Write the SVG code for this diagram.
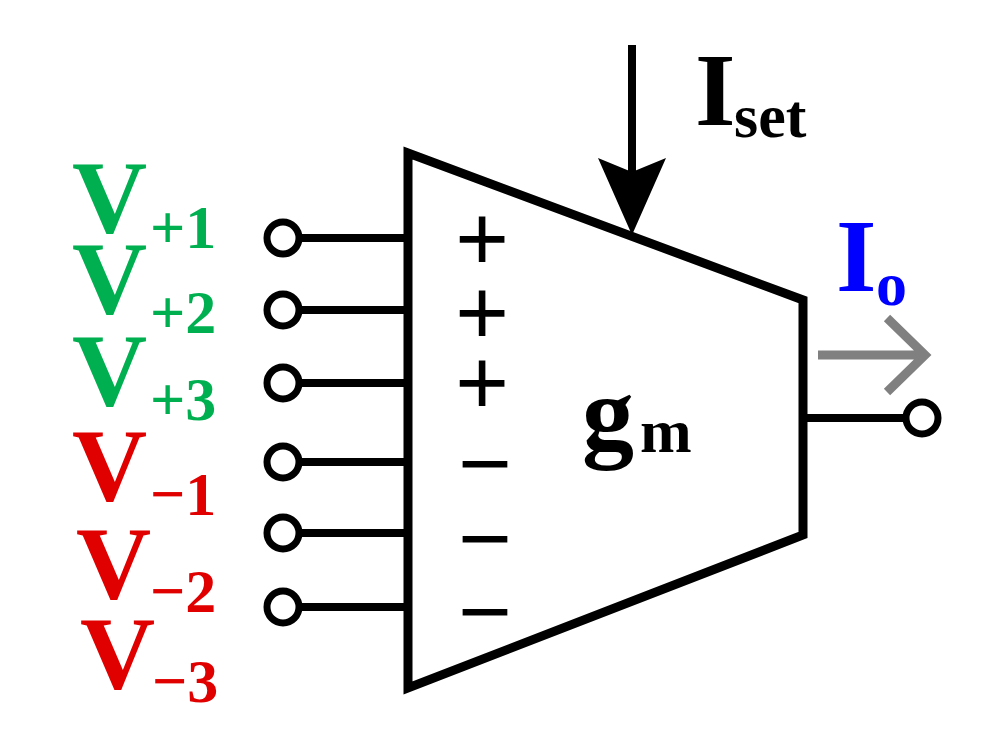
<svg xmlns="http://www.w3.org/2000/svg" width="997" height="742" viewBox="0 0 997 742">
<style>
.t{font-family:"Liberation Serif",serif;font-weight:bold}
.big{font-size:104px}.sub{font-size:62px}
.g{fill:#00b050}.r{fill:#e00000}
.pin{fill:#fff;stroke:#000;stroke-width:7}
.w{stroke:#000;stroke-width:8;fill:none}
.s{font-family:"Liberation Sans",sans-serif;font-size:92px}
</style>
<rect width="997" height="742" fill="#fff"/>
<g id="amp"><polygon points="408,153 803,300 803,535 408,688" fill="#fff" stroke="#000" stroke-width="9" stroke-linejoin="miter"/>
<g class="s" text-anchor="middle"><text x="482" y="270">+</text><text x="482" y="344">+</text><text x="482" y="414">+</text><text x="485" y="495">−</text><text x="485" y="570">−</text><text x="485" y="643">−</text></g>
<text class="t" font-size="104" x="582" y="448">g</text><text class="t" font-size="62" x="640" y="452">m</text></g>
<g id="connectors">
<path class="w" d="M300,238H408M300,310H408M300,383H408M300,462H408M300,533H408M300,607H408M803,418H905"/>
<line x1="632" y1="45" x2="632" y2="175" stroke="#000" stroke-width="8"/>
<polygon points="598,158 632,235 666,158 632,172" fill="#000"/>
<path d="M818,355H925M887,318L925,355L887,392" stroke="#808080" stroke-width="9" fill="none"/>
</g>
<g id="pins"><circle class="pin" cx="283" cy="238" r="16"/><circle class="pin" cx="283" cy="310" r="16"/><circle class="pin" cx="283" cy="383" r="16"/><circle class="pin" cx="283" cy="462" r="16"/><circle class="pin" cx="283" cy="533" r="16"/><circle class="pin" cx="283" cy="607" r="16"/><circle class="pin" cx="922" cy="418" r="16"/></g>
<g id="labels">
<text class="t big" x="695" y="125">I</text><text class="t sub" x="734" y="137">set</text>
<text class="t big" x="836" y="291" fill="#0000ff">I</text><text class="t sub" x="876" y="305" fill="#0000ff">o</text>
<text class="t big g" x="72" y="232">V</text><text class="t sub g" x="150" y="248">+1</text>
<text class="t big g" x="72" y="313">V</text><text class="t sub g" x="150" y="333">+2</text>
<text class="t big g" x="72" y="405">V</text><text class="t sub g" x="150" y="420">+3</text>
<text class="t big r" x="72" y="500">V</text><text class="t sub r" x="150" y="515">−1</text>
<text class="t big r" x="76" y="598">V</text><text class="t sub r" x="150" y="612">−2</text>
<text class="t big r" x="80" y="688">V</text><text class="t sub r" x="152" y="702">−3</text>
</g>
</svg>
